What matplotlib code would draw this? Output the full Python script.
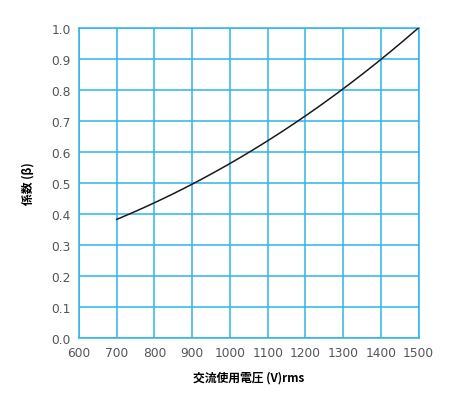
import matplotlib.pyplot as plt
import numpy as np

plt.rcParams['font.family'] = ['DejaVu Sans', 'Noto Sans CJK JP']

# données
voltage = [700, 800, 900, 1000, 1100, 1200, 1300, 1400, 1500]
beta = [0.382, 0.438, 0.497, 0.563, 0.636, 0.715, 0.805, 0.901, 1.0]

x_ticks = [600, 700, 800, 900, 1000, 1100, 1200, 1300, 1400, 1500]
y_ticks = [0.0, 0.1, 0.2, 0.3, 0.4, 0.5, 0.6, 0.7, 0.8, 0.9, 1.0]

grid_color = '#30b4e8'

fig = plt.figure(figsize=(4.5, 4.1), dpi=100)
ax = fig.add_axes([0.1756, 0.173, 0.7547, 0.756])

# courbe lissée passant par les points
xs = np.linspace(voltage[0], voltage[-1], 200)
coef = np.polyfit(voltage, beta, 3)
ax.plot(xs, np.polyval(coef, xs), color='#1a1a1a', linewidth=1.1, zorder=3)

ax.set_xlim(600, 1500)
ax.set_ylim(0, 1.0)
ax.set_xticks(x_ticks)
ax.set_yticks(y_ticks)
ax.set_xticklabels([str(v) for v in x_ticks])
ax.set_yticklabels([f'{v:.1f}' for v in y_ticks])
ax.tick_params(length=0, labelsize=8.8, labelcolor='#555555', pad=6)
ax.grid(True, color=grid_color, linewidth=1.1)
for s in ax.spines.values():
    s.set_color(grid_color)
    s.set_linewidth(1.1)

ax.set_xlabel('交流使用電圧 (V)rms', fontsize=8.5, fontweight='bold',
              family=['Noto Sans CJK JP', 'DejaVu Sans'], labelpad=8)
ax.set_ylabel('係数 (β)', fontsize=8.5, fontweight='bold',
              family=['Noto Sans CJK JP', 'DejaVu Sans'], labelpad=12)

fig.savefig('out.png', dpi=100)
